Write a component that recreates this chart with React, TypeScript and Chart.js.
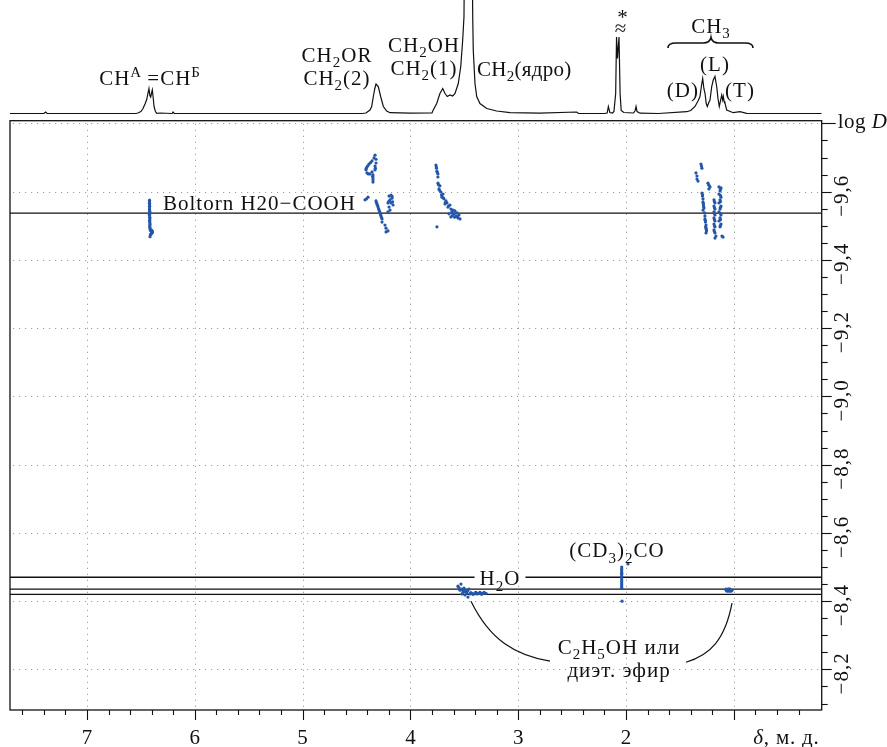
import React, { useEffect, useRef } from "react";
import { Chart, registerables } from "chart.js";
Chart.register(...registerables);

// ---- axis ranges ----
const PPM_LEFT = 7.714;
const PPM_RIGHT = 0.185;
const LOGD_TOP = -9.808;
const LOGD_BOTTOM = -8.081;

const X_TICKS = [7, 6, 5, 4, 3, 2];
const X_TICK_LABELS = ["7", "6", "5", "4", "3", "2"];
const X_GRID = [7, 6, 5, 4, 3, 2, 1];
const Y_TICKS = [-9.6, -9.4, -9.2, -9.0, -8.8, -8.6, -8.4, -8.2];
const Y_TICK_LABELS = ["\u22129,6", "\u22129,4", "\u22129,2", "\u22129,0", "\u22128,8", "\u22128,6", "\u22128,4", "\u22128,2"];
const Y_GRID = [-9.8, -9.6, -9.4, -9.2, -9.0, -8.8, -8.6, -8.4, -8.2];

// ---- 1H spectrum: [ppm, intensity] ----
const SPECTRUM: [number, number][] = [
  [7.714, 0], [7.4, 0], [7.383, 1.5], [7.37, 0], [6.55, 0], [6.527, 0.5], [6.5, 2], [6.48, 5], [6.46, 10],
  [6.446, 14], [6.435, 20], [6.425, 25], [6.417, 18], [6.409, 16.5], [6.402, 20], [6.394, 23.5], [6.386, 16],
  [6.378, 7], [6.365, 2], [6.353, 0.2], [6.323, 0.5], [6.21, 0], [6.202, 1.5], [6.19, 0], [4.45, 0],
  [4.412, 0.5], [4.375, 3.5], [4.359, 7], [4.344, 17], [4.33, 25], [4.319, 29.5], [4.298, 27], [4.276, 17],
  [4.251, 7], [4.22, 2.5], [4.189, 0.8], [4.004, 0.3], [3.8, 0.5], [3.788, 3.5], [3.756, 10], [3.726, 20],
  [3.7, 25], [3.679, 20], [3.658, 17], [3.633, 18.5], [3.608, 17.5], [3.586, 20], [3.556, 30], [3.533, 47],
  [3.515, 73.5], [3.503, 97], [3.489, 300], [3.438, 300], [3.422, 97], [3.417, 63.5], [3.401, 30],
  [3.385, 17], [3.355, 10], [3.292, 5], [3.2, 2.5], [3.076, 0.8], [2.8, 0.3], [2.458, 1.5], [2.44, 0],
  [2.2, 0], [2.175, 0.5], [2.164, 7], [2.15, 1], [2.125, 0.5], [2.112, 2], [2.096, 20], [2.088, 76.5],
  [2.079, 55], [2.065, 76.5], [2.055, 20], [2.045, 3], [2.02, 1], [1.93, 0.5], [1.915, 3], [1.907, 7],
  [1.898, 2], [1.87, 0.3], [1.7, 0], [1.437, 1.8], [1.4, 3], [1.36, 7], [1.33, 13], [1.314, 17], [1.3, 28],
  [1.289, 35], [1.278, 25], [1.267, 20], [1.256, 10], [1.246, 7], [1.232, 11], [1.221, 13.5], [1.205, 27],
  [1.191, 33.5], [1.175, 37], [1.159, 27], [1.147, 15], [1.135, 7], [1.122, 13.5], [1.112, 18.5],
  [1.103, 13.5], [1.097, 17], [1.09, 12], [1.082, 10], [1.066, 3.5], [1.005, 0.8], [0.943, 1.8],
  [0.881, 0.2], [0.185, 0],
];

// ---- reference log D lines ----
const REF_LINES = [-9.537, -8.47, -8.435, -8.42];

// ---- DOSY cross-peaks: [ppm, log D] ----
const VINYL: [number, number][] = [
  [6.42, -9.575], [6.42, -9.57], [6.42, -9.566], [6.419, -9.561], [6.419, -9.557], [6.42, -9.552],
  [6.42, -9.548], [6.418, -9.543], [6.418, -9.539], [6.42, -9.534], [6.42, -9.53], [6.417, -9.525],
  [6.417, -9.521], [6.418, -9.516], [6.418, -9.512], [6.416, -9.508], [6.416, -9.504], [6.417, -9.5],
  [6.417, -9.496], [6.414, -9.492], [6.414, -9.488], [6.405, -9.484], [6.398, -9.487], [6.392, -9.482],
  [6.4, -9.478], [6.412, -9.474], [6.415, -9.468], [6.405, -9.476], [6.396, -9.481],
];
const CH2OR: [number, number][] = [
  [4.328, -9.707], [4.338, -9.699], [4.356, -9.69], [4.384, -9.681], [4.403, -9.672], [4.412, -9.664],
  [4.403, -9.655], [4.375, -9.652], [4.356, -9.658], [4.347, -9.649], [4.347, -9.64], [4.347, -9.628],
  [4.328, -9.664], [4.319, -9.684], [4.328, -9.675], [4.319, -9.695], [4.37, -9.685], [4.395, -9.676],
  [4.41, -9.668], [4.39, -9.652], [4.347, -9.634], [4.35, -9.645], [4.325, -9.669],
  [4.421, -9.576], [4.407, -9.579], [4.393, -9.584], [4.319, -9.573], [4.31, -9.564], [4.3, -9.555],
  [4.291, -9.546], [4.282, -9.538], [4.273, -9.529], [4.263, -9.52], [4.263, -9.511], [4.236, -9.502],
  [4.226, -9.493], [4.208, -9.485], [4.226, -9.482], [4.315, -9.568], [4.305, -9.56], [4.295, -9.55],
  [4.286, -9.542], [4.277, -9.533], [4.268, -9.524], [4.198, -9.587], [4.18, -9.59], [4.171, -9.581],
  [4.189, -9.576], [4.208, -9.567], [4.18, -9.567], [4.161, -9.561], [4.198, -9.555], [4.189, -9.546],
  [4.208, -9.541], [4.17, -9.586], [4.2, -9.572], [4.165, -9.57],
];
const CH2OH: [number, number][] = [
  [3.763, -9.678], [3.758, -9.669], [3.754, -9.66], [3.745, -9.652], [3.745, -9.643], [3.76, -9.673],
  [3.75, -9.656], [3.744, -9.625], [3.726, -9.617], [3.735, -9.608], [3.717, -9.599], [3.698, -9.593],
  [3.707, -9.584], [3.689, -9.579], [3.67, -9.573], [3.679, -9.564], [3.661, -9.567], [3.652, -9.555],
  [3.633, -9.561], [3.624, -9.549], [3.615, -9.541], [3.605, -9.546], [3.596, -9.535], [3.587, -9.544],
  [3.578, -9.529], [3.568, -9.538], [3.559, -9.523], [3.55, -9.532], [3.54, -9.52], [3.642, -9.535],
  [3.624, -9.526], [3.754, -9.497], [3.74, -9.62], [3.73, -9.604], [3.712, -9.59], [3.695, -9.582],
  [3.675, -9.569], [3.645, -9.558], [3.61, -9.53], [3.59, -9.525], [3.565, -9.527],
];
const CH3: [number, number][] = [
  [1.305, -9.681], [1.3, -9.675], [1.296, -9.669], [1.351, -9.655], [1.342, -9.646], [1.342, -9.637],
  [1.332, -9.631], [1.296, -9.596], [1.291, -9.587], [1.286, -9.579], [1.286, -9.57], [1.282, -9.561],
  [1.277, -9.552], [1.286, -9.546], [1.272, -9.538], [1.268, -9.529], [1.268, -9.52], [1.263, -9.511],
  [1.258, -9.502], [1.258, -9.494], [1.254, -9.485], [1.258, -9.479], [1.24, -9.625], [1.231, -9.619],
  [1.221, -9.614], [1.231, -9.608], [1.184, -9.576], [1.175, -9.567], [1.184, -9.558], [1.175, -9.549],
  [1.184, -9.541], [1.175, -9.532], [1.184, -9.523], [1.175, -9.514], [1.184, -9.505], [1.175, -9.497],
  [1.184, -9.488], [1.175, -9.479], [1.166, -9.47], [1.175, -9.464], [1.138, -9.614], [1.119, -9.611],
  [1.128, -9.602], [1.138, -9.593], [1.119, -9.584], [1.128, -9.576], [1.138, -9.567], [1.119, -9.558],
  [1.128, -9.549], [1.138, -9.541], [1.119, -9.532], [1.128, -9.523], [1.138, -9.514], [1.119, -9.505],
  [1.128, -9.497], [1.11, -9.47], [1.1, -9.467], [1.29, -9.591], [1.283, -9.566], [1.28, -9.556],
  [1.265, -9.516], [1.262, -9.497], [1.256, -9.49], [1.18, -9.571], [1.18, -9.553], [1.18, -9.536],
  [1.18, -9.518], [1.18, -9.5], [1.18, -9.483], [1.124, -9.607], [1.124, -9.589], [1.124, -9.571],
  [1.124, -9.554], [1.124, -9.536], [1.124, -9.518], [1.124, -9.501],
];
const WATER: [number, number][] = [
  [3.559, -8.444], [3.54, -8.432], [3.531, -8.45], [3.512, -8.426], [3.503, -8.438], [3.494, -8.418],
  [3.484, -8.432], [3.475, -8.423], [3.466, -8.412], [3.447, -8.421], [3.429, -8.423], [3.41, -8.421],
  [3.392, -8.426], [3.373, -8.423], [3.355, -8.426], [3.336, -8.423], [3.317, -8.426], [3.299, -8.423],
  [3.457, -8.435], [3.522, -8.421], [3.44, -8.425], [3.42, -8.42], [3.4, -8.424], [3.38, -8.421],
  [3.36, -8.423], [3.34, -8.42], [3.32, -8.423], [3.47, -8.43], [3.49, -8.428], [3.55, -8.44],
  [3.525, -8.435], [3.51, -8.43],
];
const ACETONE: [number, number][] = [
  [2.04, -8.5], [2.04, -8.495], [2.04, -8.491], [2.04, -8.486], [2.04, -8.482], [2.04, -8.478],
  [2.04, -8.473], [2.04, -8.469], [2.04, -8.465], [2.04, -8.46], [2.04, -8.456], [2.04, -8.451],
  [2.04, -8.447], [2.04, -8.442], [2.04, -8.438], [1.982, -8.509], [2.037, -8.4],
];
const ETHANOL: [number, number][] = [
  [1.073, -8.435], [1.054, -8.432], [1.035, -8.435], [1.017, -8.432], [1.045, -8.429], [1.063, -8.429],
  [1.026, -8.429], [1.07, -8.432], [1.05, -8.436], [1.03, -8.431],
];

const FAMILY = '"Liberation Serif", "Times New Roman", serif';
const BLUE = "#2456a8";
const FS = 21;

type Seg = [string, number]; // 0 normal, 1 sub, 2 sup, 3 italic
function segFont(size: number, mode: number) {
  if (mode === 1 || mode === 2) return `${Math.round(size * 0.7)}px ${FAMILY}`;
  return `${mode === 3 ? "italic " : ""}${size}px ${FAMILY}`;
}
function richWidth(ctx: CanvasRenderingContext2D, segs: Seg[], size: number) {
  let w = 0;
  for (const [t, m] of segs) {
    ctx.font = segFont(size, m);
    w += ctx.measureText(t).width;
  }
  return w;
}
function drawRich(ctx: CanvasRenderingContext2D, segs: Seg[], x: number, y: number, size: number, align: string, spacing = 1.0) {
  (ctx as any).letterSpacing = `${spacing}px`;
  const w = richWidth(ctx, segs, size);
  let cx = align === "center" ? x - w / 2 : align === "right" ? x - w : x;
  ctx.textAlign = "left";
  ctx.textBaseline = "alphabetic";
  ctx.fillStyle = "#111";
  for (const [t, m] of segs) {
    ctx.font = segFont(size, m);
    const dy = m === 1 ? size * 0.26 : m === 2 ? -size * 0.4 : 0;
    ctx.fillText(t, cx, y + dy);
    cx += ctx.measureText(t).width;
  }
  (ctx as any).letterSpacing = "0px";
  return w;
}

const topPlugin = {
  id: "topAnnot",
  afterDraw(chart: any) {
    const ctx: CanvasRenderingContext2D = chart.ctx;
    const xs = chart.scales.x;
    const ys = chart.scales.y;
    const X = (v: number) => xs.getPixelForValue(v);
    const Y = (v: number) => ys.getPixelForValue(v);
    ctx.save();
    const S = FS;
    drawRich(ctx, [["CH", 0], ["A", 2], ["\u2009=", 0], ["CH", 0], ["\u0411", 2]], X(6.415), Y(28.5), S, "center");
    drawRich(ctx, [["CH", 0], ["2", 1], ["OR", 0]], X(4.681), Y(51.5), S, "center");
    drawRich(ctx, [["CH", 0], ["2", 1], ["(2)", 0]], X(4.681), Y(28.5), S, "center");
    drawRich(ctx, [["CH", 0], ["2", 1], ["OH", 0]], X(3.874), Y(61.5), S, "center");
    drawRich(ctx, [["CH", 0], ["2", 1], ["(1)", 0]], X(3.874), Y(38.5), S, "center");
    drawRich(ctx, [["CH", 0], ["2", 1], ["(\u044f\u0434\u0440\u043e)", 0]], X(3.383), Y(37.5), S, "left", 0.3);
    drawRich(ctx, [["*", 0]], X(2.028), Y(89.5), S, "center");
    drawRich(ctx, [["\u2248", 0]], X(2.046), Y(78.5), S, "center");
    drawRich(ctx, [["CH", 0], ["3", 1]], X(1.212), Y(80.5), S, "center");
    drawRich(ctx, [["(L)", 0]], X(1.175), Y(42.5), S, "center");
    drawRich(ctx, [["(D)", 0]], X(1.472), Y(16.5), S, "center");
    drawRich(ctx, [["(T)", 0]], X(0.943), Y(16.5), S, "center");
    // brace over CH3 group
    const bx0 = X(1.611), bx1 = X(0.822), bm = X(1.212);
    const yb = Y(65.5), yl = Y(70.5), yt = Y(76);
    ctx.strokeStyle = "#111";
    ctx.lineWidth = 1.6;
    ctx.beginPath();
    ctx.moveTo(bx0, yb);
    ctx.quadraticCurveTo(bx0, yl, bx0 + 8, yl);
    ctx.lineTo(bm - 8, yl);
    ctx.quadraticCurveTo(bm - 1, yl, bm, yt);
    ctx.quadraticCurveTo(bm + 1, yl, bm + 8, yl);
    ctx.lineTo(bx1 - 8, yl);
    ctx.quadraticCurveTo(bx1, yl, bx1, yb);
    ctx.stroke();
    ctx.restore();
  },
};

const mainPlugin = {
  id: "mainDecor",
  beforeDatasetsDraw(chart: any) {
    const ctx: CanvasRenderingContext2D = chart.ctx;
    const { left, right, top, bottom } = chart.chartArea;
    const xs = chart.scales.x;
    const ys = chart.scales.y;
    ctx.save();
    ctx.strokeStyle = "#a0a0a0";
    ctx.lineWidth = 1;
    ctx.setLineDash([1.2, 4.8]);
    for (const v of X_GRID) {
      const px = Math.round(xs.getPixelForValue(v)) + 0.5;
      ctx.beginPath();
      ctx.moveTo(px, top + 3);
      ctx.lineTo(px, bottom);
      ctx.stroke();
    }
    for (const v of Y_GRID) {
      const py = Math.round(ys.getPixelForValue(v)) + 0.5;
      ctx.beginPath();
      ctx.moveTo(left + 3, py);
      ctx.lineTo(right, py);
      ctx.stroke();
    }
    ctx.restore();
  },
  afterDatasetsDraw(chart: any) {
    const ctx: CanvasRenderingContext2D = chart.ctx;
    const { left, right, top, bottom } = chart.chartArea;
    const xs = chart.scales.x;
    const ys = chart.scales.y;
    const X = (v: number) => xs.getPixelForValue(v);
    const Y = (v: number) => ys.getPixelForValue(v);
    ctx.save();
    // frame
    ctx.strokeStyle = "#111";
    ctx.lineWidth = 1.3;
    ctx.strokeRect(left, top, right - left, bottom - top);
    // x ticks every 0.2 ppm
    ctx.lineWidth = 1.1;
    for (let i = 2; i <= 38; i++) {
      const v = i / 5;
      if (v <= PPM_RIGHT + 0.05 || v >= PPM_LEFT - 0.05) continue;
      const px = Math.round(X(v)) + 0.5;
      const major = i % 5 === 0;
      ctx.beginPath();
      ctx.moveTo(px, bottom);
      ctx.lineTo(px, bottom + (major ? 10 : 5));
      ctx.stroke();
    }
    // y ticks every 0.05
    for (let i = 0; i <= 40; i++) {
      const v = -9.8 + i * 0.05;
      if (v > LOGD_BOTTOM - 0.01) continue;
      const py = Math.round(Y(v)) + 0.5;
      const major = i % 4 === 0;
      ctx.beginPath();
      ctx.moveTo(right, py);
      ctx.lineTo(right + (i === 0 ? 14 : major ? 10 : 6), py);
      ctx.stroke();
    }
    // tick labels
    ctx.fillStyle = "#111";
    ctx.font = `${FS}px ${FAMILY}`;
    ctx.textAlign = "center";
    ctx.textBaseline = "alphabetic";
    X_TICKS.forEach((v, i) => ctx.fillText(X_TICK_LABELS[i], X(v), bottom + 34));
    Y_TICKS.forEach((v, i) => {
      ctx.save();
      ctx.translate(right + 21, Y(v) + 4);
      ctx.rotate(-Math.PI / 2);
      ctx.textAlign = "center";
      ctx.textBaseline = "middle";
      ctx.font = `${FS}px ${FAMILY}`;
      (ctx as any).letterSpacing = "1px";
      ctx.fillText(Y_TICK_LABELS[i], 0, 0);
      ctx.restore();
    });
    drawRich(ctx, [["log ", 0], ["D", 3]], right + 16, Y(-9.787), FS, "left", 0.5);
    drawRich(ctx, [["\u03b4", 3], [", \u043c. \u0434.", 0]], X(0.82), bottom + 34, FS, "left", 0.8);

    // annotations
    const S = FS;
    drawRich(ctx, [["Boltorn H20\u2212COOH", 0]], X(6.295), Y(-9.546), S, "left", 1.0);
    // H2O with a gap in the line behind it
    (ctx as any).letterSpacing = "1px";
    const wH = richWidth(ctx, [["H", 0], ["2", 1], ["O", 0]], S);
    (ctx as any).letterSpacing = "0px";
    ctx.fillStyle = "#fff";
    ctx.fillRect(X(3.169) - wH / 2 - 5, Y(-8.47) - 3, wH + 10, 6);
    drawRich(ctx, [["H", 0], ["2", 1], ["O", 0]], X(3.169), Y(-8.447), S, "center");
    drawRich(ctx, [["(CD", 0], ["3", 1], [")", 0], ["2", 1], ["CO", 0]], X(2.084), Y(-8.529), S, "center");
    drawRich(ctx, [["C", 0], ["2", 1], ["H", 0], ["5", 1], ["OH \u0438\u043b\u0438", 0]], X(2.065), Y(-8.245), S, "center");
    drawRich(ctx, [["\u0434\u0438\u044d\u0442. \u044d\u0444\u0438\u0440", 0]], X(2.065), Y(-8.178), S, "center");
    // connector curves
    ctx.strokeStyle = "#111";
    ctx.lineWidth = 1.2;
    ctx.beginPath();
    ctx.moveTo(X(3.438), Y(-8.4));
    ctx.bezierCurveTo(X(3.262), Y(-8.286), X(3.03), Y(-8.242), X(2.705), Y(-8.224));
    ctx.stroke();
    ctx.beginPath();
    ctx.moveTo(X(1.017), Y(-8.394));
    ctx.bezierCurveTo(X(1.082), Y(-8.286), X(1.221), Y(-8.242), X(1.444), Y(-8.221));
    ctx.stroke();
    ctx.restore();
  },
};

const toXY = (arr: [number, number][]) => arr.map(([x, y]) => ({ x, y }));

export default function App() {
  const topRef = useRef<HTMLCanvasElement>(null);
  const mainRef = useRef<HTMLCanvasElement>(null);

  useEffect(() => {
    const xScale = { type: "linear", min: PPM_RIGHT, max: PPM_LEFT, reverse: true, display: false };
    const top = new Chart(topRef.current!, {
      type: "scatter",
      data: {
        datasets: [
          {
            data: toXY(SPECTRUM),
            showLine: true,
            borderColor: "#111",
            borderWidth: 1.2,
            pointRadius: 0,
            tension: 0,
          },
        ],
      },
      options: {
        responsive: false,
        animation: false,
        devicePixelRatio: 1,
        layout: { padding: { left: 10, right: 65.3, top: 0, bottom: 0 } },
        scales: { x: xScale as any, y: { type: "linear", min: -4.5, max: 113.5, display: false } },
        plugins: { legend: { display: false }, tooltip: { enabled: false } },
        events: [],
      },
      plugins: [topPlugin],
    } as any);

    const pointSet = (arr: [number, number][]) => ({
      data: toXY(arr),
      pointRadius: 1.6,
      pointBackgroundColor: BLUE,
      pointBorderWidth: 0,
      showLine: false,
    });
    const main = new Chart(mainRef.current!, {
      type: "scatter",
      data: {
        datasets: [
          pointSet(VINYL),
          pointSet(CH2OR),
          pointSet(CH2OH),
          pointSet(CH3),
          pointSet(WATER),
          pointSet(ACETONE),
          pointSet(ETHANOL),
          ...REF_LINES.map((v) => ({
            data: [
              { x: PPM_LEFT, y: v },
              { x: PPM_RIGHT, y: v },
            ],
            showLine: true,
            borderColor: "#111",
            borderWidth: 1.3,
            pointRadius: 0,
          })),
        ],
      },
      options: {
        responsive: false,
        animation: false,
        devicePixelRatio: 1,
        layout: { padding: { left: 10, right: 65.3, top: 25.7, bottom: 37 } },
        scales: {
          x: xScale as any,
          y: { type: "linear", min: LOGD_TOP, max: LOGD_BOTTOM, reverse: true, display: false },
        },
        plugins: { legend: { display: false }, tooltip: { enabled: false } },
        events: [],
      },
      plugins: [mainPlugin],
    } as any);

    return () => {
      top.destroy();
      main.destroy();
    };
  }, []);

  return (
    <div style={{ position: "fixed", left: 0, top: 0, width: 887, height: 747, background: "#fff" }}>
      <canvas ref={topRef} width={887} height={118} style={{ position: "absolute", left: 0, top: 0, width: 887, height: 118 }} />
      <canvas ref={mainRef} width={887} height={652} style={{ position: "absolute", left: 0, top: 95, width: 887, height: 652 }} />
    </div>
  );
}
